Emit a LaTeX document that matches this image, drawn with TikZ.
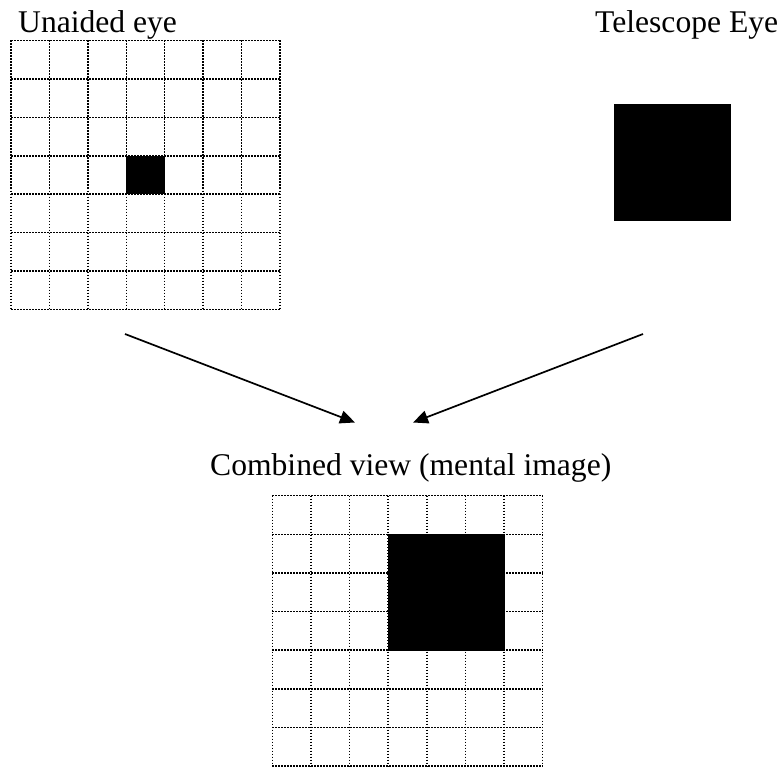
\documentclass[tikz,border=0pt]{standalone}
\usepackage{fontspec}
\setmainfont{Liberation Serif}
\usetikzlibrary{arrows.meta}
\begin{document}
\begin{tikzpicture}[x=1pt,y=-1pt,
  gridline/.style={line width=1.5pt,dash pattern=on 1.5pt off 1.5pt},
  blackbox/.style={fill=black,draw=none,inner sep=0pt,outer sep=0pt},
  caption/.style={font=\fontsize{31.6}{38}\selectfont,inner sep=0pt,anchor=base west},
  viewarrow/.style={line width=1.7pt,-{Triangle[length=15pt,width=13pt]}}]
\useasboundingbox (0,0) rectangle (783,767);

% left grid: unaided eye
\foreach \i in {0,...,7}{
  \draw[gridline] ({11+\i*269/7},40.5) -- ({11+\i*269/7},309.5);
  \draw[gridline] (11,{40.5+\i*269/7}) -- (280,{40.5+\i*269/7});
}
\node[blackbox,minimum width=38.4pt,minimum height=38.4pt] (star1) at (145.5,175) {};

% lower grid: combined view
\foreach \i in {0,...,7}{
  \draw[gridline] ({272.3+\i*270.4/7},495.7) -- ({272.3+\i*270.4/7},766.1);
  \draw[gridline] (272.3,{495.7+\i*270.4/7}) -- (542.7,{495.7+\i*270.4/7});
}
\node[blackbox,minimum width=116.5pt,minimum height=116.5pt] (star3) at (446.3,592.3) {};

% telescope image
\node[blackbox,minimum width=117.6pt,minimum height=117.3pt] (star2) at (672.5,162.4) {};

% captions
\node[caption] (lbl1) at (18,33) {Unaided eye};
\node[caption] (lbl2) at (595,33) {Telescope Eye};
\node[caption] (lbl3) at (210,475) {Combined view (mental image)};

% arrows into the combined view
\coordinate (a1s) at (125,334);
\coordinate (a1e) at (355,422.5);
\coordinate (a2s) at (643,334);
\coordinate (a2e) at (413,422.5);
\draw[viewarrow] (a1s) -- (a1e);
\draw[viewarrow] (a2s) -- (a2e);
\end{tikzpicture}
\end{document}
